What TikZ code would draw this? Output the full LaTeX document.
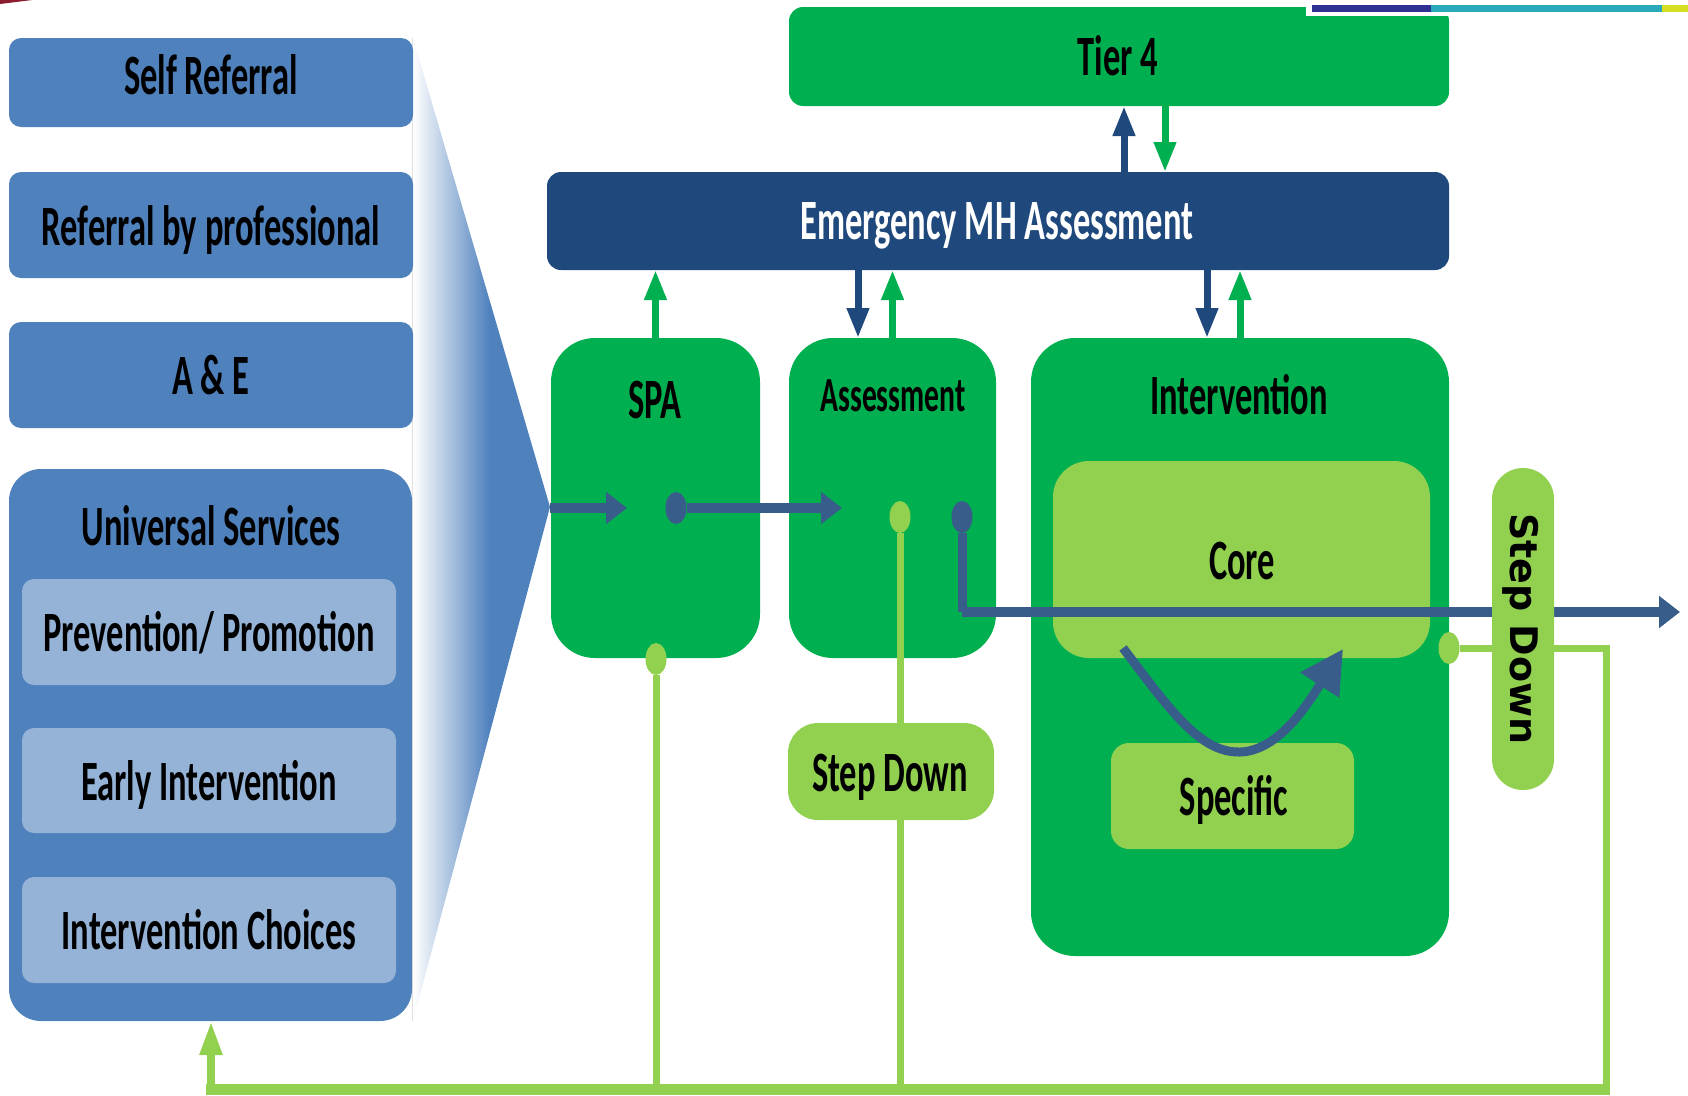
\documentclass[tikz,border=0pt]{standalone}
\usepackage{fontspec}
\usetikzlibrary{arrows.meta,calc,shapes.geometric}
\newfontfamily\lblfont{Carlito}[FakeStretch=0.605]
\newfontfamily\pillfont{DejaVu Sans}

\definecolor{boxblue}{HTML}{4F81BD}
\definecolor{paleblue}{HTML}{95B3D7}
\definecolor{nhsgreen}{HTML}{00B050}
\definecolor{limegreen}{HTML}{92D050}
\definecolor{navy}{HTML}{1F497D}
\definecolor{flowblue}{HTML}{385D8A}
\definecolor{stripnavy}{HTML}{2E3192}
\definecolor{stripteal}{HTML}{2AAAB8}
\definecolor{stripyellow}{HTML}{D7DF23}
\definecolor{cornermaroon}{HTML}{8C1D2E}

\pgfdeclarehorizontalshading{funnelshade}{100bp}{color(0bp)=(white); color(25bp)=(white); color(53bp)=(boxblue); color(100bp)=(boxblue)}

\tikzset{
  panel/.style={rectangle, draw=none, inner sep=0pt, outer sep=0pt},
  bluebox/.style={panel, fill=boxblue, rounded corners=12pt},
  palebox/.style={panel, fill=paleblue, rounded corners=12pt},
  greenbox/.style={panel, fill=nhsgreen, rounded corners=44pt},
  limebox/.style={panel, fill=limegreen},
  txt/.style={font=\lblfont\bfseries\fontsize{57}{60}\selectfont, text=black, inner sep=0pt, anchor=base},
  smalltxt/.style={txt, font=\lblfont\bfseries\fontsize{49}{52}\selectfont},
  emarrow/.style={line width=7pt, -{Triangle[width=21pt,length=30pt]}},
  flowarrow/.style={draw=flowblue, line width=10pt, -{Triangle[width=31pt,length=21pt]}},
  flowline/.style={draw=flowblue, line width=9pt},
  limeline/.style={draw=limegreen, line width=7pt},
  gdot/.style={ellipse, fill=limegreen, inner sep=0pt, minimum width=21pt, minimum height=32pt},
  bdot/.style={ellipse, fill=flowblue, inner sep=0pt, minimum width=21pt, minimum height=32pt},
}

\begin{document}
\begin{tikzpicture}[x=1pt,y=-1pt]
\useasboundingbox (0,0) rectangle (1688,1095);

% corner remnants
\fill[cornermaroon] (0,0) -- (32,0) -- (0,4) -- cycle;

% funnel from the referral routes into SPA
\draw[black!12, line width=1pt] (412,38) -- (412,1021);
\shade[shading=funnelshade] (413,38) -- (550,507) -- (413,1021) -- cycle;
\coordinate (funnelTip) at (550,508);

% referral routes
\node[bluebox, minimum width=404pt, minimum height=89pt] (selfref) at (211,82.5) {};
\node[bluebox, minimum width=404pt, minimum height=106pt] (refprof) at (211,225) {};
\node[bluebox, minimum width=404pt, minimum height=106pt] (ae) at (211,375) {};
\node[bluebox, rounded corners=32pt, minimum width=403pt, minimum height=552pt] (univ) at (210.5,745) {};
\node[palebox, minimum width=374pt, minimum height=106pt] (prev) at (209,632) {};
\node[palebox, minimum width=374pt, minimum height=105pt] (early) at (209,780.5) {};
\node[palebox, minimum width=374pt, minimum height=106pt] (choices) at (209,930) {};

\node[txt] (selfrefT) at (211,94) {Self Referral};
\node[txt] (refprofT) at (211,245) {Referral by professional};
\node[txt] (aeT) at (211,394) {A \& E};
\node[txt] (univT) at (211,545) {Universal Services};
\node[txt] (prevT) at (209,651) {Prevention/ Promotion};
\node[txt] (earlyT) at (209,800) {Early Intervention};
\node[txt] (choicesT) at (209,949) {Intervention Choices};

% upper tiers
\node[panel, fill=nhsgreen, rounded corners=14pt, minimum width=660pt, minimum height=99pt] (tier4) at (1119,56.5) {};
\node[txt] (tier4T) at (1118,75) {Tier 4};
\node[panel, fill=navy, rounded corners=14pt, minimum width=902pt, minimum height=98pt] (emer) at (998,221) {};
\node[txt, text=white] (emerT) at (997,239) {Emergency MH Assessment};

% header strip
\fill[white] (1306,0) rectangle (1688,16);
\fill[stripnavy] (1312,5) rectangle (1431,12);
\fill[stripteal] (1431,5) rectangle (1662,12);
\fill[stripyellow] (1662,5) rectangle (1688,12);

% service boxes
\node[greenbox, minimum width=209pt, minimum height=320pt] (spa) at (655.5,498) {};
\node[greenbox, minimum width=207pt, minimum height=320pt] (assess) at (892.5,498) {};
\node[greenbox, minimum width=418pt, minimum height=618pt] (interv) at (1240,647) {};
\node[txt] (spaT) at (655,418) {SPA};
\node[smalltxt] (assessT) at (893,411) {Assessment};
\node[txt] (intervT) at (1239,414) {Intervention};
\node[limebox, rounded corners=36pt, minimum width=377pt, minimum height=197pt] (core) at (1241.5,559.5) {};
\node[txt] (coreT) at (1242,579) {Core};

% links between the tiers
\coordinate (tx1) at (1124,0);
\coordinate (tx2) at (1165,0);
\coordinate (ax1) at (858,0);
\coordinate (ix1) at (1207,0);
\draw[emarrow, navy] (tx1 |- emer.north) -- (tx1 |- tier4.south);
\draw[emarrow, nhsgreen] (tx2 |- tier4.south) -- (tx2 |- emer.north);
\draw[emarrow, nhsgreen] (spa.north) -- (spa.north |- emer.south);
\draw[emarrow, navy] (ax1 |- emer.south) -- (ax1 |- assess.north);
\draw[emarrow, nhsgreen] (assess.north) -- (assess.north |- emer.south);
\draw[emarrow, navy] (ix1 |- emer.south) -- (ix1 |- interv.north);
\draw[emarrow, nhsgreen] (interv.north) -- (interv.north |- emer.south);

% step-down return routes
\coordinate (loopR) at (1606,648);
\coordinate (loopRB) at (1606,1089);
\coordinate (loopLB) at (211,1089);
\node[gdot] (sdot) at (656,659) {};
\node[gdot] (adot) at (900,517) {};
\draw[limeline] (sdot) -- (sdot |- loopLB);
\draw[limeline] (adot) -- (adot |- loopLB);
\node[gdot] (idot) at (1449,648) {};
\draw[limeline] (idot) -- (loopR) -- (loopRB) -- (loopLB);
\draw[draw=limegreen, line width=8pt, -{Triangle[width=21pt,length=34pt]}] (loopLB) -- (loopLB |- univ.south);
\fill[limegreen] ($(loopLB)+(-5,-5)$) rectangle ($(loopRB)+(4,6)$);

% referral flow
\coordinate (spaIn) at (627,508);
\coordinate (assessIn) at (842,508);
\coordinate (bend) at (962,612);
\coordinate (outR) at (1680,612);
\draw[flowarrow] (funnelTip) -- (spaIn);
\node[bdot] (spadot) at (676,508) {};
\draw[flowarrow] (spadot) -- (assessIn);
\node[bdot] (bdot2) at (962,517) {};
\draw[flowline] (bdot2) -- (bend);
\draw[flowarrow] (bend) -- (outR);

% step down and specific
\node[limebox, rounded corners=30pt, minimum width=206pt, minimum height=97pt] (stepd) at (891,771.5) {};
\node[txt] (stepdT) at (890,791) {Step Down};
\node[limebox, rounded corners=18pt, minimum width=243pt, minimum height=106pt] (spec) at (1232.5,796) {};
\node[txt] (specT) at (1234,815) {Specific};

\coordinate (curveA) at (1123,648);
\coordinate (curveB) at (1343,649);
\draw[draw=flowblue, line width=9pt, -{Triangle[width=44pt,length=43pt]}]
  (curveA) .. controls (1170,710) and (1200,753) .. (1240,752)
  .. controls (1280,751) and (1310,700) .. (curveB);

\node[limebox, rounded corners=31pt, minimum width=62pt, minimum height=322pt] (pill) at (1523,629) {};
\node[rotate=-90, inner sep=0pt, font=\pillfont\bfseries\fontsize{38}{40}\selectfont] (pillT) at (1521,629) {Step Down};
\end{tikzpicture}
\end{document}
